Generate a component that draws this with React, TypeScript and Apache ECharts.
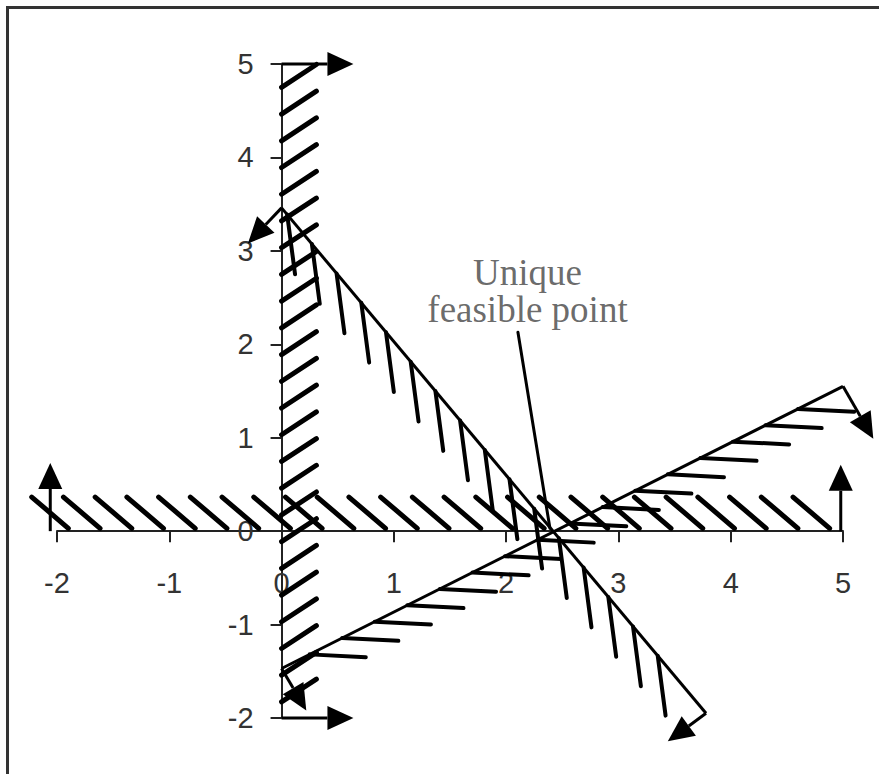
import React, { useEffect, useRef } from "react";
import * as echarts from "echarts";

// Axis ranges and tick labels
const X_MIN = -2;
const X_MAX = 5;
const Y_MIN = -2;
const Y_MAX = 5;
const X_TICKS = [-2, -1, 0, 1, 2, 3, 4, 5];
const Y_TICKS = [-2, -1, 0, 1, 2, 3, 4, 5];

// Constraint boundary lines (data coordinates: [x, y])
const constraintA = [
  [0, 3.46],
  [3.78, -1.95],
];
const constraintB = [
  [0, -1.47],
  [5.0, 1.55],
];

// Direction arrows: [x1, y1, x2, y2]
const arrows = [
  [0, 5, 0.64, 5],
  [0, -2, 0.64, -2],
  [-2.06, 0, -2.06, 0.73],
  [4.98, 0, 4.98, 0.71],
  [0, 3.46, -0.3, 3.08],
  [3.78, -1.95, 3.44, -2.25],
  [0, -1.47, 0.22, -1.92],
  [5.0, 1.55, 5.27, 0.99],
];

// Annotation
const annotationText = "Unique\nfeasible point";
const annotationAt = [2.19, 2.575];
const pointerLine = [[2.105, 2.13, 2.39, 0.03]];

// Hatch pattern parameters (pattern, not data)
const HATCH_Y_AXIS = { start: 4.75, step: -0.286, count: 24, dx: 0.31, dy: 0.245 };
const HATCH_X_AXIS = { start: -2.225, step: 0.2825, count: 25, top: 0.365, dx: 0.326, bottom: 0.03 };
const HATCH_A = { start: 0.05, step: 0.22, count: 16, dx: 0.07, dy: -0.64 };
const HATCH_B = { start: 0.25, step: 0.29, count: 16, dx: 0.5, dy: -0.03 };

// Layout (pixels)
const GRID = { left: 57, right: 36, top: 64, bottom: 56 };
const W = 879;
const H = 774;

function lineY(seg: number[][], x: number) {
  const [[x0, y0], [x1, y1]] = seg;
  return y0 + ((y1 - y0) * (x - x0)) / (x1 - x0);
}

function buildHatches() {
  const yAxisH: number[][] = [];
  for (let i = 0; i < HATCH_Y_AXIS.count; i++) {
    const y = HATCH_Y_AXIS.start + i * HATCH_Y_AXIS.step;
    yAxisH.push([0, y, HATCH_Y_AXIS.dx, y + HATCH_Y_AXIS.dy]);
  }
  const xAxisH: number[][] = [];
  for (let i = 0; i < HATCH_X_AXIS.count; i++) {
    const x = HATCH_X_AXIS.start + i * HATCH_X_AXIS.step;
    xAxisH.push([x, HATCH_X_AXIS.top, x + HATCH_X_AXIS.dx, HATCH_X_AXIS.bottom]);
  }
  const aH: number[][] = [];
  for (let i = 0; i < HATCH_A.count; i++) {
    const x = HATCH_A.start + i * HATCH_A.step;
    const y = lineY(constraintA, x);
    aH.push([x, y, x + HATCH_A.dx, y + HATCH_A.dy]);
  }
  const bH: number[][] = [];
  for (let i = 0; i < HATCH_B.count; i++) {
    const x = HATCH_B.start + i * HATCH_B.step;
    const y = lineY(constraintB, x);
    bH.push([x, y, x + HATCH_B.dx, y + HATCH_B.dy]);
  }
  return { yAxisH, xAxisH, aH, bH };
}

function segmentSeries(data: number[][], width: number, z = 3) {
  return {
    type: "custom",
    clip: false,
    z,
    encode: { x: [0, 2], y: [1, 3] },
    data,
    silent: true,
    renderItem: (_params: any, api: any) => {
      const a = api.coord([api.value(0), api.value(1)]);
      const b = api.coord([api.value(2), api.value(3)]);
      return {
        type: "line",
        shape: { x1: a[0], y1: a[1], x2: b[0], y2: b[1] },
        style: { stroke: "#000", lineWidth: width, lineCap: "round" },
      };
    },
  };
}

export default function App() {
  const ref = useRef<HTMLDivElement>(null);

  useEffect(() => {
    document.body.style.margin = "0";
    document.body.style.overflow = "hidden";
    if (!ref.current) return;
    const chart = echarts.init(ref.current, undefined, { renderer: "svg" });
    const { yAxisH, xAxisH, aH, bH } = buildHatches();

    // pixel offsets that bring each axis onto the other's zero
    const plotW = W - GRID.left - GRID.right;
    const plotH = H - GRID.top - GRID.bottom;
    const xAxisOffset = -plotH * ((0 - Y_MIN) / (Y_MAX - Y_MIN));
    const yAxisOffset = -plotW * ((0 - X_MIN) / (X_MAX - X_MIN));

    const axisCommon = {
      type: "value",
      interval: 1,
      splitLine: { show: false },
      axisLine: { show: true, onZero: false, lineStyle: { color: "#222", width: 2 } },
      axisTick: { show: true, length: 11, lineStyle: { color: "#222", width: 2 } },
    };

    const option: any = {
      animation: false,
      backgroundColor: "#fff",
      grid: { ...GRID, containLabel: false },
      xAxis: {
        ...axisCommon,
        position: "bottom",
        offset: xAxisOffset,
        min: X_MIN,
        max: X_MAX,
        axisLabel: {
          margin: 37,
          fontSize: 29,
          color: "#333",
          fontFamily: "Liberation Sans",
          formatter: (v: number) => (X_TICKS.includes(v) ? String(v) : ""),
        },
      },
      yAxis: {
        ...axisCommon,
        position: "left",
        offset: yAxisOffset,
        min: Y_MIN,
        max: Y_MAX,
        axisLabel: {
          margin: 28,
          fontSize: 29,
          color: "#333",
          fontFamily: "Liberation Sans",
          formatter: (v: number) => (Y_TICKS.includes(v) ? String(v) : ""),
        },
      },
      graphic: [
        {
          type: "rect",
          shape: { x: 7.5, y: 7.5, width: 900, height: 800 },
          style: { fill: "none", stroke: "#333", lineWidth: 3 },
          silent: true,
        },
      ],
      series: [
        segmentSeries(yAxisH, 5),
        segmentSeries(xAxisH, 5),
        segmentSeries(aH, 4),
        segmentSeries(bH, 4),
        {
          type: "line",
          data: constraintA,
          symbol: "none",
          lineStyle: { color: "#000", width: 3 },
          z: 4,
          silent: true,
        },
        {
          type: "line",
          data: constraintB,
          symbol: "none",
          lineStyle: { color: "#000", width: 3 },
          z: 4,
          silent: true,
        },
        segmentSeries(pointerLine, 3, 4),
        {
          type: "custom",
          clip: false,
          z: 5,
          encode: { x: [0, 2], y: [1, 3] },
          data: arrows,
          silent: true,
          renderItem: (_params: any, api: any) => {
            const a = api.coord([api.value(0), api.value(1)]);
            const b = api.coord([api.value(2), api.value(3)]);
            const dx = b[0] - a[0];
            const dy = b[1] - a[1];
            const len = Math.hypot(dx, dy) || 1;
            const ux = dx / len;
            const uy = dy / len;
            const HL = 26;
            const HW = 12;
            const bx = b[0] - ux * HL;
            const by = b[1] - uy * HL;
            const nx = -uy;
            const ny = ux;
            return {
              type: "group",
              children: [
                {
                  type: "line",
                  shape: { x1: a[0], y1: a[1], x2: bx, y2: by },
                  style: { stroke: "#000", lineWidth: 3 },
                },
                {
                  type: "polygon",
                  shape: {
                    points: [
                      [b[0], b[1]],
                      [bx + nx * HW, by + ny * HW],
                      [bx - nx * HW, by - ny * HW],
                    ],
                  },
                  style: { fill: "#000" },
                },
              ],
            };
          },
        },
        {
          type: "scatter",
          data: [annotationAt],
          symbolSize: 1,
          itemStyle: { color: "rgba(0,0,0,0)" },
          z: 6,
          silent: true,
          label: {
            show: true,
            position: "inside",
            formatter: annotationText,
            fontFamily: "Liberation Serif",
            fontSize: 37,
            lineHeight: 37,
            color: "#444",
            align: "center",
            verticalAlign: "middle",
          },
        },
      ],
    };

    chart.setOption(option);
    return () => chart.dispose();
  }, []);

  return <div ref={ref} style={{ width: W, height: H }} />;
}
